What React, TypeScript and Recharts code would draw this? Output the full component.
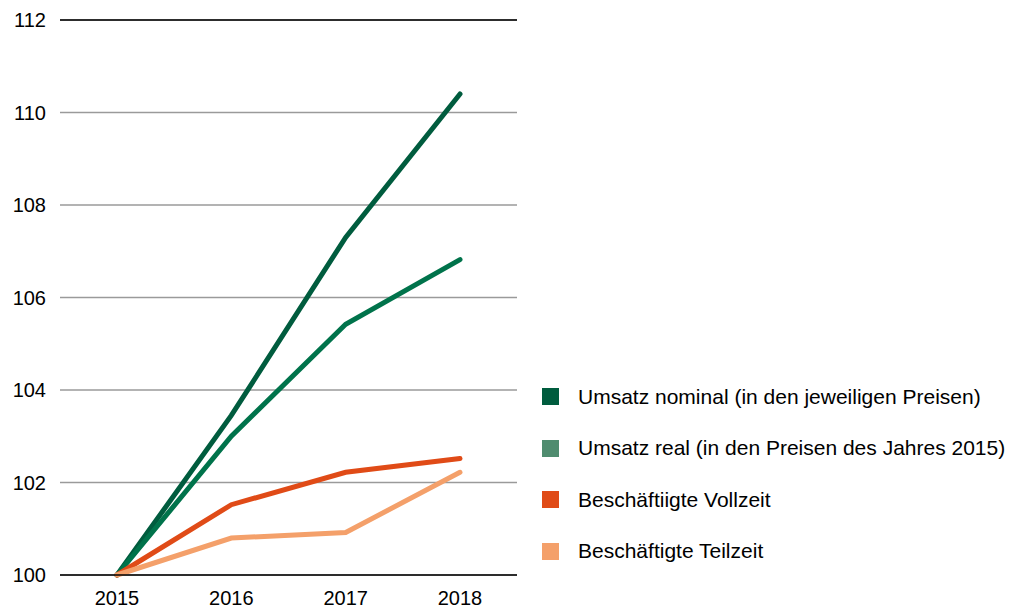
import React from 'react';
import { LineChart, Line, XAxis, YAxis, CartesianGrid, ReferenceLine } from 'recharts';

const years = ['2015', '2016', '2017', '2018'];
const umsatzNominal = [100, 103.45, 107.3, 110.4];
const umsatzReal = [100, 103.0, 105.42, 106.82];
const vollzeit = [100, 101.52, 102.22, 102.52];
const teilzeit = [100, 100.8, 100.92, 102.22];
const yTicks = [100, 102, 104, 106, 108, 110, 112];

const series = [
    { key: 'nominal', name: 'Umsatz nominal (in den jeweiligen Preisen)', color: '#005C3E', legend: '#005C3E' },
    { key: 'real', name: 'Umsatz real (in den Preisen des Jahres 2015)', color: '#00734B', legend: '#4F8C6F' },
    { key: 'vollzeit', name: 'Beschäftiigte Vollzeit', color: '#E04B17', legend: '#E04B17' },
    { key: 'teilzeit', name: 'Beschäftigte Teilzeit', color: '#F4A06A', legend: '#F4A06A' },
];

const data = years.map((year, i) => ({
    year,
    nominal: umsatzNominal[i],
    real: umsatzReal[i],
    vollzeit: vollzeit[i],
    teilzeit: teilzeit[i],
}));

const font = '"Liberation Sans", Arial, sans-serif';

export default function App() {
    return (
        <div style={{ position: 'absolute', left: 0, top: 0, width: 1019, height: 614, background: '#fff', fontFamily: font }}>
            <LineChart
                width={1019}
                height={614}
                data={data}
                margin={{ top: 20, right: 502, left: 0, bottom: 9 }}
            >
                <CartesianGrid vertical={false} stroke="#9a9a9a" strokeWidth={1.5} />
                <XAxis
                    dataKey="year"
                    height={30}
                    padding={{ left: 57, right: 57 }}
                    axisLine={{ stroke: '#000', strokeWidth: 1.5 }}
                    tickLine={false}
                    tickSize={0}
                    tickMargin={16}
                    tick={{ fontSize: 20, fill: '#000', fontFamily: font }}
                />
                <YAxis
                    width={60}
                    domain={[100, 112]}
                    ticks={yTicks}
                    axisLine={false}
                    tickLine={false}
                    tickSize={0}
                    tickMargin={14}
                    tick={{ fontSize: 20, fill: '#000', fontFamily: font }}
                />
                <ReferenceLine y={112} stroke="#000" strokeWidth={1.5} />
                {series.map((s) => (
                    <Line
                        key={s.key}
                        type="linear"
                        dataKey={s.key}
                        name={s.name}
                        stroke={s.color}
                        strokeWidth={5}
                        strokeLinecap="round"
                        dot={false}
                        activeDot={false}
                        isAnimationActive={false}
                    />
                ))}
            </LineChart>
            <div style={{ position: 'absolute', left: 542, top: 371 }}>
                {series.map((s) => (
                    <div key={s.key} style={{ display: 'flex', alignItems: 'center', height: 51.5 }}>
                        <div style={{ width: 17, height: 17, background: s.legend, marginRight: 19, flexShrink: 0 }} />
                        <span style={{ fontSize: 21, color: '#000', whiteSpace: 'nowrap' }}>{s.name}</span>
                    </div>
                ))}
            </div>
        </div>
    );
}
